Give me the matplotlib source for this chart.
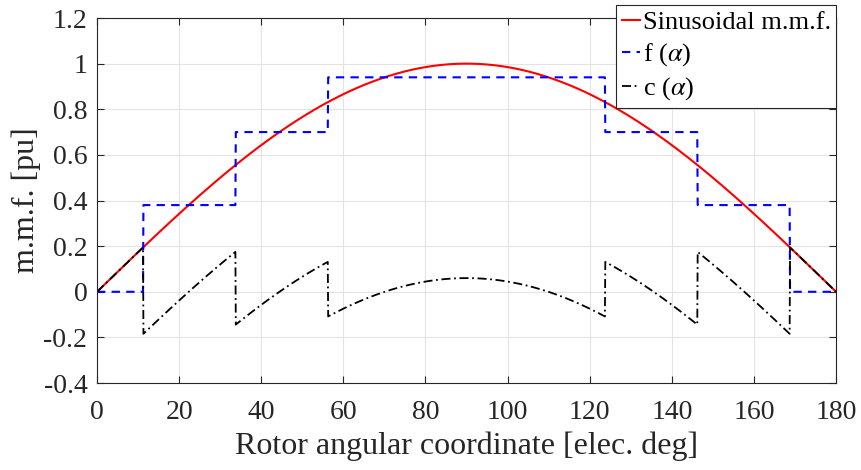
import matplotlib
matplotlib.use("Agg")
import matplotlib.pyplot as plt
import numpy as np

# staircase f(alpha): step edges [elec. deg] and levels [pu]
step_edges = [0, 11.25, 33.75, 56.25, 123.75, 146.25, 168.75, 180]
step_levels = [0, 0.38, 0.70, 0.94, 0.70, 0.38, 0]
peak = 1.0

plt.rcParams["font.family"] = ["Liberation Serif", "DejaVu Serif"]
plt.rcParams["mathtext.fontset"] = "stix"

alpha = np.linspace(0, 180, 1801)
sinus = peak * np.sin(np.deg2rad(alpha))
idx = np.clip(np.searchsorted(step_edges, alpha, side="right") - 1, 0, len(step_levels) - 1)
f = np.array(step_levels)[idx]
c = sinus - f

fig = plt.figure(figsize=(8.61, 4.70), dpi=100)
ax = fig.add_axes([0.1127, 0.185, 0.8583, 0.7767])

ax.plot(alpha, sinus, color="red", lw=1.5, label="Sinusoidal m.m.f.")
ax.plot(alpha, f, color="blue", lw=1.5, ls=(0, (4, 3)), label=r"f ($\alpha$)")
ax.plot(alpha, c, color="black", lw=1.3, ls=(0, (5, 2, 1, 2)), label=r"c ($\alpha$)")

ax.set_xlim(0, 180)
ax.set_ylim(-0.4, 1.2)
ax.set_xticks(np.arange(0, 181, 20))
ax.set_yticks(np.arange(-0.4, 1.21, 0.2))
ax.set_yticklabels(["-0.4", "-0.2", "0", "0.2", "0.4", "0.6", "0.8", "1", "1.2"])
ax.grid(True, color="#e3e3e3", lw=0.8)
ax.set_axisbelow(True)
ax.tick_params(direction="in", top=True, right=True, labelsize=20, color="#262626",
               labelcolor="#262626", length=5)
ax.tick_params(axis="x", pad=12)
ax.tick_params(axis="y", pad=7)
for s in ax.spines.values():
    s.set_color("#262626")
    s.set_linewidth(0.8)

ax.set_xlabel("Rotor angular coordinate [elec. deg]", fontsize=23, color="#262626", labelpad=5)
ax.set_ylabel("m.m.f. [pu]", fontsize=23, color="#262626", labelpad=2)

leg = ax.legend(loc="upper right", bbox_to_anchor=(1.0, 1.035), fontsize=19,
                fancybox=False, framealpha=1, edgecolor="#262626",
                handlelength=0.7, handletextpad=0.1, borderpad=0.2,
                labelspacing=0.28, borderaxespad=0)
leg.get_frame().set_linewidth(0.8)

fig.savefig("out.png", dpi=100)
